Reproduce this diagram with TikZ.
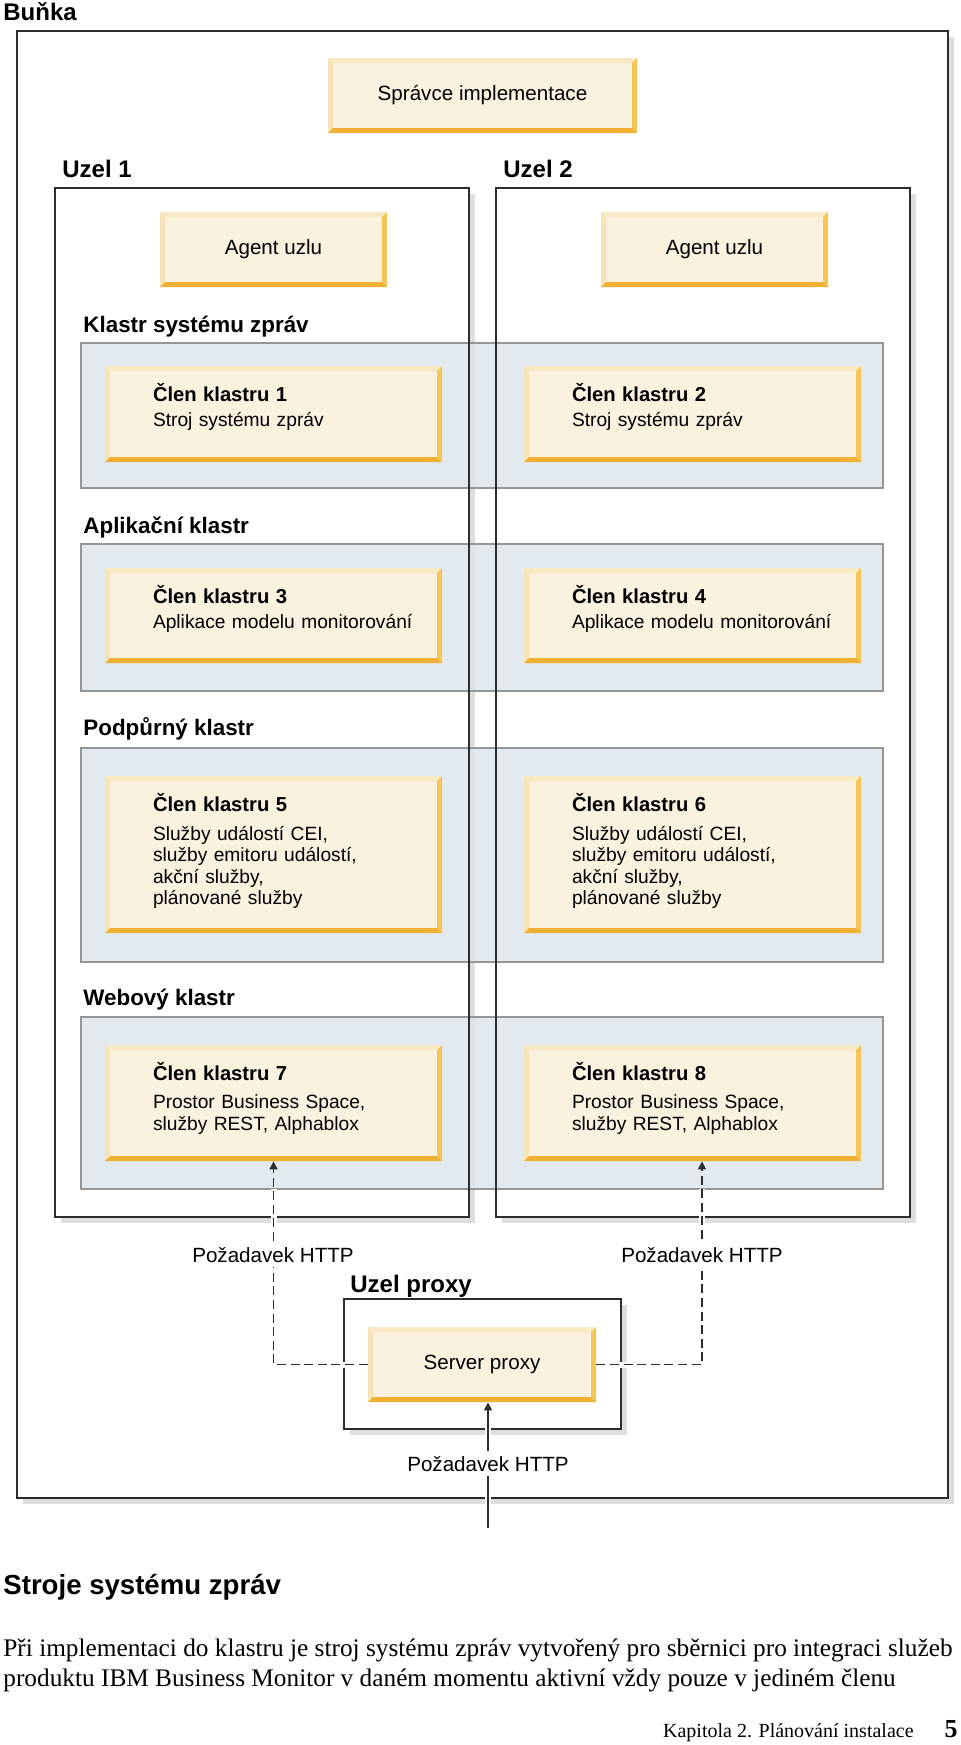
\documentclass[tikz,border=0pt]{standalone}
\usepackage{fontspec}
\setmainfont{Liberation Serif}
\setsansfont{Liberation Sans}
\usepackage{xcolor}
\usetikzlibrary{arrows.meta, positioning}

\definecolor{framecol}{RGB}{45,45,45}
\definecolor{shadowcol}{RGB}{222,222,222}
\definecolor{clusterfill}{RGB}{220,229,236}
\definecolor{clusterline}{RGB}{150,150,150}
\definecolor{boxfill}{RGB}{250,241,222}
\definecolor{bevtop}{RGB}{249,233,196}
\definecolor{bevleft}{RGB}{247,228,182}
\definecolor{bevright}{RGB}{244,198,88}
\definecolor{bevbottom}{RGB}{239,176,52}

\newcommand{\clen}[1]{{\bfseries\fontsize{10.1}{10.8}\selectfont Člen klastru #1}}

\begin{document}
\begin{tikzpicture}[x=0.5pt, y=-0.5pt,
    font=\sffamily\fontsize{10.3}{12}\selectfont,
    shadowed/.style={preaction={fill=shadowcol, transform canvas={shift={(3pt,-3pt)}}}},
    framebox/.style={shadowed, fill=white, draw=framecol, line width=0.85pt},
    cluster/.style={fill=clusterfill, fill opacity=0.8, draw=clusterline, line width=0.6pt},
    ybox/.style={fill=boxfill, inner sep=0pt, path picture={
        \coordinate (pa) at (path picture bounding box.north west);
        \coordinate (pb) at (path picture bounding box.north east);
        \coordinate (pc) at (path picture bounding box.south east);
        \coordinate (pd) at (path picture bounding box.south west);
        \fill[bevtop] (pa) -- (pb) -- ([shift={(-5,5)}]pb) -- ([shift={(5,5)}]pa) -- cycle;
        \fill[bevleft] (pa) -- ([shift={(5,5)}]pa) -- ([shift={(5,-5)}]pd) -- (pd) -- cycle;
        \fill[bevright] (pb) -- (pc) -- ([shift={(-5,-5)}]pc) -- ([shift={(-5,5)}]pb) -- cycle;
        \fill[bevbottom] (pd) -- (pc) -- ([shift={(-5,-5)}]pc) -- ([shift={(5,-5)}]pd) -- cycle;
    }},
    member/.style={ybox, minimum width=168.5pt},
    membertext/.style={anchor=base west, inner sep=0pt, text width=140pt, align=left, font=\sffamily\fontsize{9.6}{10.8}\selectfont},
    biglabel/.style={anchor=base west, inner sep=0pt, font=\sffamily\bfseries\fontsize{12}{14}\selectfont},
    grplabel/.style={anchor=base west, inner sep=0pt, font=\sffamily\bfseries\fontsize{11.2}{13}\selectfont},
    reqlabel/.style={anchor=base, fill=white, inner sep=2.5pt},
    reqline/.style={draw=framecol, line width=0.75pt, dash pattern=on 4.5pt off 2.3pt, -{Triangle[length=4pt,width=4pt]}},
    reqarrow/.style={draw=framecol, line width=0.75pt, -{Triangle[length=4pt,width=4pt]}},
    whitegap/.style={draw=white, line width=3pt}
]
\useasboundingbox (0,0) rectangle (960,1745);

% bunka
\node[biglabel] (cell-lbl) at (3,20) {Buňka};
\draw[framebox] (17,31) rectangle (948,1498);

% uzly - podklad
\foreach \xa/\xb in {55/469, 496/910}
    \path[shadowed, fill=white] (\xa,188) rectangle (\xb,1217);

% klastry
\foreach \ya/\yb in {343/488, 544/691, 748/962, 1017/1189}
    \draw[cluster] (81,\ya) rectangle (883,\yb);

% uzly - okraje
\foreach \xa/\xb in {55/469, 496/910}
    \draw[framecol, line width=0.85pt] (\xa,188) rectangle (\xb,1217);
\node[biglabel] (node1-lbl) at (62,177) {Uzel 1};
\node[biglabel] (node2-lbl) at (503,177) {Uzel 2};

\node[grplabel] (msg-lbl) at (83,332) {Klastr systému zpráv};
\node[grplabel] (app-lbl) at (83,533) {Aplikační klastr};
\node[grplabel] (sup-lbl) at (83,735) {Podpůrný klastr};
\node[grplabel] (web-lbl) at (83,1005) {Webový klastr};

% spravce a agenti
\node[ybox, minimum width=154.5pt, minimum height=37.5pt] (dmgr) at (482.5,95.5) {Správce implementace};
\node[ybox, minimum width=113.5pt, minimum height=37.5pt] (agent1) at (273.5,249.5) {Agent uzlu};
\node[ybox, minimum width=113.5pt, minimum height=37.5pt] (agent2) at (714.5,249.5) {Agent uzlu};

% clenove klastru
\foreach \nm/\cx/\cy/\h/\body in {
    m1/273.5/414/96/{\clen{1}\\[2pt]Stroj systému zpráv},
    m2/692.5/414/96/{\clen{2}\\[2pt]Stroj systému zpráv},
    m3/273.5/615.5/95/{\clen{3}\\[2pt]Aplikace modelu monitorování},
    m4/692.5/615.5/95/{\clen{4}\\[2pt]Aplikace modelu monitorování},
    m5/273.5/854.5/157/{\clen{5}\\[3.7pt]Služby událostí CEI,\\služby emitoru událostí,\\akční služby,\\plánované služby},
    m6/692.5/854.5/157/{\clen{6}\\[3.7pt]Služby událostí CEI,\\služby emitoru událostí,\\akční služby,\\plánované služby},
    m7/273.5/1103/116/{\clen{7}\\[3.4pt]Prostor Business Space,\\služby REST, Alphablox},
    m8/692.5/1103/116/{\clen{8}\\[3.4pt]Prostor Business Space,\\služby REST, Alphablox}} {
    \node[member, minimum height=\h*0.5pt] (\nm) at (\cx,\cy) {};
    \node[membertext] (\nm-t) at ([shift={(48,35.5)}]\nm.north west) {\body};
}

% proxy
\draw[framebox] (344,1299) rectangle (621,1429);
\node[biglabel] (proxy-lbl) at (350,1292) {Uzel proxy};
\node[ybox, minimum width=114pt, minimum height=37.5pt] (sp) at (482,1364.5) {Server proxy};

% pozadavky
\coordinate (client) at (488,1528);
\draw[whitegap] (sp.west) -| ([yshift=-14pt]m7.south);
\draw[whitegap] (sp.east) -| ([shift={(4.75pt,-14pt)}]m8.south);
\draw[whitegap] (client) -- (client |- sp.south);
\draw[reqline] (sp.west) -| (m7.south);
\draw[reqline] (sp.east) -| ([xshift=4.75pt]m8.south);
\draw[reqarrow] (client) -- (client |- sp.south);
\node[reqlabel] (req1) at (273,1262) {Požadavek HTTP};
\node[reqlabel] (req2) at (702,1262) {Požadavek HTTP};
\node[reqlabel] (req3) at (488,1471) {Požadavek HTTP};

% text pod obrazkem
\node[anchor=base west, inner sep=0pt, font=\sffamily\bfseries\fontsize{13.8}{16}\selectfont] (head) at (3,1594) {Stroje systému zpráv};
\node[anchor=base west, inner sep=0pt, font=\rmfamily\fontsize{12.65}{15}\selectfont] (par1) at (3,1656) {Při implementaci do klastru je stroj systému zpráv vytvořený pro sběrnici pro integraci služeb};
\node[anchor=base west, inner sep=0pt, font=\rmfamily\fontsize{12.65}{15}\selectfont] (par2) at (3,1686) {produktu IBM Business Monitor v daném momentu aktivní vždy pouze v jediném členu};
\node[anchor=base east, inner sep=0pt, font=\rmfamily\fontsize{10}{12}\selectfont] (foot) at (914,1737) {Kapitola 2. Plánování instalace};
\node[anchor=base east, inner sep=0pt, font=\rmfamily\bfseries\fontsize{13}{15}\selectfont] (pageno) at (958,1737) {5};
\end{tikzpicture}
\end{document}
